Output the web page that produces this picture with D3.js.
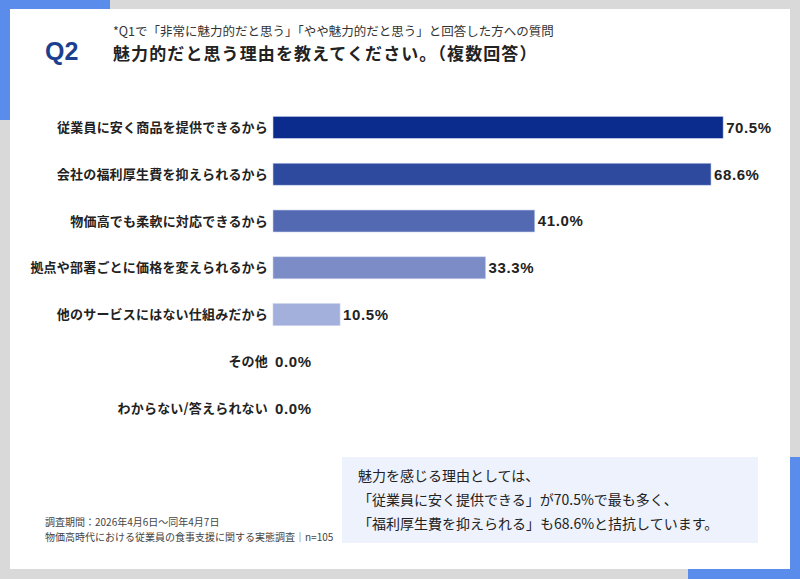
<!DOCTYPE html>
<html>
<head>
<meta charset="utf-8">
<script src="https://cdn.jsdelivr.net/npm/d3@7"></script>
<style>
  html, body { margin: 0; padding: 0; background: #d9d9d9; }
  svg { display: block; }
</style>
</head>
<body>
<div id="chart"></div>
<script>
// data
const categories = [
  '従業員に安く商品を提供できるから',
  '会社の福利厚生費を抑えられるから',
  '物価高でも柔軟に対応できるから',
  '拠点や部署ごとに価格を変えられるから',
  '他のサービスにはない仕組みだから',
  'その他',
  'わからない/答えられない',
];
const values = [70.5, 68.6, 41.0, 33.3, 10.5, 0.0, 0.0];
const barColors = ['#0b2c8c', '#2d4a9e', '#5369b2', '#7c8cc6', '#a3b0dc', '#c5cdea', '#c5cdea'];

const subtitle = '*Q1で「非常に魅力的だと思う」「やや魅力的だと思う」と回答した方への質問';
const title = '魅力的だと思う理由を教えてください。（複数回答）';
const footnotes = [
  '調査期間：2026年4月6日～同年4月7日',
  '物価高時代における従業員の食事支援に関する実態調査｜n=105',
];
const summaryLines = [
  '魅力を感じる理由としては、',
  '「従業員に安く提供できる」が70.5%で最も多く、',
  '「福利厚生費を抑えられる」も68.6%と拮抗しています。',
];

const width = 800;
const height = 579;
const jp = '"Noto Sans CJK JP", "Noto Sans", sans-serif';
const accent = '#5a8cec';

const svg = d3.select('#chart').append('svg')
  .attr('width', width)
  .attr('height', height);

// background and card
svg.append('rect').attr('width', width).attr('height', height).attr('fill', '#d9d9d9');
svg.append('rect').attr('x', 0).attr('y', 0).attr('width', 110).attr('height', 9).attr('fill', accent);
svg.append('rect').attr('x', 0).attr('y', 0).attr('width', 10).attr('height', 120).attr('fill', accent);
svg.append('rect').attr('x', 688).attr('y', 569).attr('width', 112).attr('height', 10).attr('fill', accent);
svg.append('rect').attr('x', 790).attr('y', 457).attr('width', 10).attr('height', 122).attr('fill', accent);
svg.append('rect').attr('x', 10).attr('y', 9).attr('width', 780).attr('height', 560).attr('fill', '#ffffff');

// header
svg.append('text')
  .attr('x', 45).attr('y', 60)
  .style('font-family', '"Liberation Sans", Arial, sans-serif')
  .style('font-size', '25px')
  .style('font-weight', 'bold')
  .style('fill', '#1d3f8f')
  .text('Q2');

svg.append('text')
  .attr('x', 113).attr('y', 36)
  .style('font-family', jp)
  .style('font-size', '12.5px')
  .style('fill', '#333')
  .text(subtitle);

svg.append('text')
  .attr('x', 113).attr('y', 60)
  .style('font-family', jp)
  .style('font-size', '17px')
  .style('font-weight', 'bold')
  .style('letter-spacing', '1.1px')
  .style('fill', '#222')
  .text(title);

// bars
const x = d3.scaleLinear()
  .domain([0, 100])
  .range([273, 273 + 638.5]);

const y = d3.scaleBand()
  .domain(categories)
  .range([104, 104 + 46.8 * categories.length])
  .paddingInner(0.53)
  .paddingOuter(0.265);

const rows = svg.append('g').selectAll('g')
  .data(categories.map((c, i) => ({ c, v: values[i], color: barColors[i] })))
  .enter()
  .append('g');

rows.append('rect')
  .attr('x', x(0))
  .attr('y', (d) => y(d.c))
  .attr('width', (d) => x(d.v) - x(0))
  .attr('height', y.bandwidth())
  .attr('fill', (d) => d.color)
  .attr('stroke', (d) => (d.v > 0 ? '#c9d3ee' : 'none'))
  .attr('stroke-width', 0.6);

rows.append('text')
  .attr('x', x(0) - 5)
  .attr('y', (d) => y(d.c) + y.bandwidth() / 2)
  .attr('dy', '0.36em')
  .attr('text-anchor', 'end')
  .style('font-family', jp)
  .style('font-size', '13px')
  .style('font-weight', 'bold')
  .style('letter-spacing', '0.2px')
  .style('fill', '#222')
  .text((d) => d.c);

rows.append('text')
  .attr('x', (d) => x(d.v) + (d.v > 0 ? 3 : 2))
  .attr('y', (d) => y(d.c) + y.bandwidth() / 2)
  .attr('dy', '0.36em')
  .style('font-family', '"Liberation Sans", Arial, sans-serif')
  .style('font-size', '15px')
  .style('font-weight', 'bold')
  .style('letter-spacing', '0.6px')
  .style('fill', '#222')
  .text((d) => `${d.v.toFixed(1)}%`);

// footnotes
svg.append('g').selectAll('text')
  .data(footnotes)
  .enter()
  .append('text')
  .attr('x', 45)
  .attr('y', (d, i) => 526 + i * 15)
  .style('font-family', jp)
  .style('font-size', '10px')
  .style('fill', '#444')
  .text((d) => d);

// summary box
svg.append('rect')
  .attr('x', 342).attr('y', 457)
  .attr('width', 416).attr('height', 86)
  .attr('fill', '#edf2fc');

svg.append('g').selectAll('text')
  .data(summaryLines)
  .enter()
  .append('text')
  .attr('x', 358)
  .attr('y', (d, i) => 481 + i * 24)
  .style('font-family', jp)
  .style('font-size', '14px')
  .style('fill', '#222')
  .text((d) => d);
</script>
</body>
</html>
